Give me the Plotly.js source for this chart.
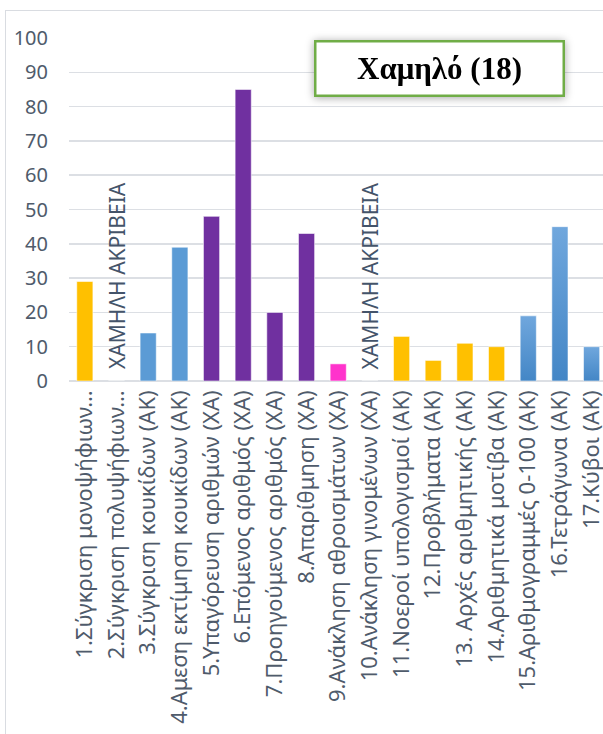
<!DOCTYPE html>
<html>
<head>
<meta charset="utf-8">
<script src="https://cdn.plot.ly/plotly-3.0.1.min.js"></script>
<style>
  html, body { margin: 0; padding: 0; background: #fff; overflow: hidden; }
  #wrap { position: relative; width: 603px; height: 734px; overflow: hidden; }
  #chart { position: absolute; left: 0; top: 0; width: 603px; height: 734px; }
  #frame { position: absolute; left: 5px; top: 10px; right: -4px; bottom: -4px;
           border-left: 1.5px solid #D9DCE1; border-top: 1.5px solid #D9DCE1;
           pointer-events: none; }
</style>
</head>
<body>
<div id="wrap">
  <div id="chart"></div>
  <div id="frame"></div>
</div>
<script>
// Task labels (x axis categories)
const categories = [
  "1.Σύγκριση μονοψήφιων…",
  "2.Σύγκριση πολυψήφιων…",
  "3.Σύγκριση κουκίδων (AK)",
  "4.Αμεση εκτίμηση κουκίδων (AK)",
  "5.Υπαγόρευση αριθμών (ΧΑ)",
  "6.Επόμενος αριθμός (ΧΑ)",
  "7.Προηγούμενος αριθμός (ΧΑ)",
  "8.Απαρίθμηση (ΧΑ)",
  "9.Ανάκληση αθροισμάτων (ΧΑ)",
  "10.Ανάκληση γινομένων (ΧΑ)",
  "11.Νοεροί υπολογισμοί (AK)",
  "12.Προβλήματα (AK)",
  "13. Αρχές αριθμητικής (AK)",
  "14.Αριθμητικά μοτίβα (AK)",
  "15.Αριθμογραμμές 0-100 (AK)",
  "16.Τετράγωνα (AK)",
  "17.Κύβοι (AK)"
];

// Percentages per task
const values = [29, 0, 14, 39, 48, 85, 20, 43, 5, 0, 13, 6, 11, 10, 19, 45, 10];

// Tasks flagged with a text note instead of a bar
const noteTasks = [categories[1], categories[9]];
const noteText = "ΧΑΜΗΛΗ ΑΚΡΙΒΕΙΑ";

// Y axis ticks
const yTicks = [0, 10, 20, 30, 40, 50, 60, 70, 80, 90, 100];

const chartTitle = "Χαμηλό (18)";

// Bar fill per task
const YELLOW = "#FFC000", BLUE = "#5B9BD5", PURPLE = "#7030A0", PINK = "#FF33CC", GRAD = "#5896D3";
const barColors = [YELLOW, YELLOW, BLUE, BLUE, PURPLE, PURPLE, PURPLE, PURPLE, PINK,
                   PINK, YELLOW, YELLOW, YELLOW, YELLOW, GRAD, GRAD, GRAD];
const gradientBars = [14, 15, 16];

const tickColor = "#4F5B6B";
const gridColor = "#DCDFE4";

const trace = {
  type: "bar",
  x: categories,
  y: values,
  marker: {
    color: barColors,
    line: { color: "rgba(255,255,255,0.55)", width: 1 }
  },
  hoverinfo: "x+y"
};

const annotations = noteTasks.map(c => ({
  x: c, y: 0, xref: "x", yref: "y",
  text: noteText,
  textangle: -90,
  showarrow: false,
  xanchor: "center", yanchor: "bottom",
  yshift: 10,
  font: { family: "Noto Sans, sans-serif", size: 21, color: "#44546A" }
}));

annotations.push({
  xref: "paper", yref: "paper",
  x: 0.694, y: 0.910,
  xanchor: "center", yanchor: "middle",
  text: "<b>" + chartTitle + "</b>",
  showarrow: false,
  width: 246, height: 52,
  borderpad: 0,
  bgcolor: "#FFFFFF",
  bordercolor: "#70AD47",
  borderwidth: 2.5,
  font: { family: "Liberation Serif, Times New Roman, serif", size: 31, color: "#000000" }
});

const layout = {
  width: 603,
  height: 734,
  margin: { l: 69, r: 0, t: 38, b: 353 },
  paper_bgcolor: "#FFFFFF",
  plot_bgcolor: "#FFFFFF",
  bargap: 0.49,
  showlegend: false,
  font: { family: "Noto Sans, sans-serif", color: tickColor },
  xaxis: {
    type: "category",
    range: [-0.5, 16.36],
    tickangle: -90,
    tickfont: { family: "Noto Sans, sans-serif", size: 22, color: tickColor },
    showgrid: false,
    showline: false,
    zeroline: false,
    ticks: "",
    ticklabelstandoff: 4,
    automargin: false
  },
  yaxis: {
    range: [0, 100],
    tickvals: yTicks,
    ticktext: yTicks.map(String),
    tickfont: { family: "Noto Sans, sans-serif", size: 20, color: tickColor },
    showgrid: true,
    gridcolor: gridColor,
    gridwidth: 1.5,
    zeroline: true,
    zerolinecolor: gridColor,
    zerolinewidth: 1.5,
    showline: false,
    ticks: "",
    ticklabelstandoff: 20,
    automargin: false
  },
  annotations: annotations
};

Plotly.newPlot("chart", [trace], layout, { displayModeBar: false, staticPlot: true }).then(gd => {
  // vertical shading on the last three bars
  const svg = gd.querySelector("svg.main-svg");
  const ns = "http://www.w3.org/2000/svg";
  let defs = svg.querySelector("defs");
  if (!defs) { defs = document.createElementNS(ns, "defs"); svg.insertBefore(defs, svg.firstChild); }
  const lg = document.createElementNS(ns, "linearGradient");
  lg.setAttribute("id", "blueShade");
  lg.setAttribute("x1", "0"); lg.setAttribute("y1", "0");
  lg.setAttribute("x2", "0"); lg.setAttribute("y2", "1");
  [["0", "#70A7DD"], ["1", "#4386C6"]].forEach(([o, c]) => {
    const s = document.createElementNS(ns, "stop");
    s.setAttribute("offset", o); s.setAttribute("stop-color", c);
    lg.appendChild(s);
  });
  defs.appendChild(lg);
  const paths = gd.querySelectorAll(".trace.bars .point path");
  gradientBars.forEach(i => { if (paths[i]) paths[i].style.fill = "url(#blueShade)"; });

  // soft shadow round the title box
  const anns = gd.querySelectorAll(".annotation");
  const box = anns[anns.length - 1];
  if (box) box.style.filter = "drop-shadow(0px 1px 4px rgba(0,0,0,0.35))";
});
</script>
</body>
</html>
